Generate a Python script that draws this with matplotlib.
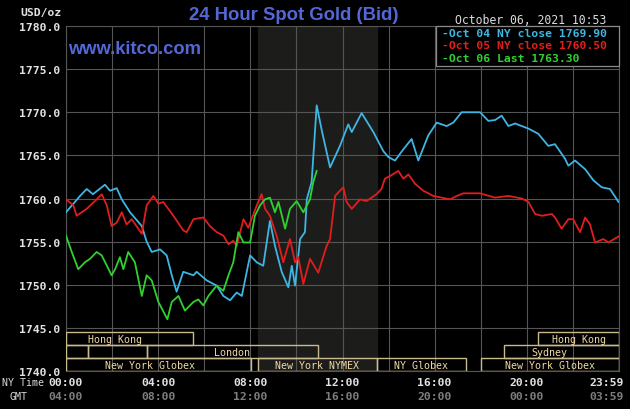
import matplotlib
matplotlib.use("Agg")
import matplotlib.pyplot as plt
from matplotlib.patches import Rectangle
from matplotlib.transforms import blended_transform_factory

# prices, hours are NY time
oct04_hours = [0.0, 0.61, 0.90, 1.17, 1.69, 1.91, 2.20, 2.42, 2.78, 3.29, 3.50, 3.72,
               4.08, 4.37, 4.59, 4.80, 5.09, 5.53, 5.67, 6.11, 6.54, 6.83, 7.12, 7.41,
               7.63, 7.99, 8.28, 8.56, 8.85, 9.07, 9.36, 9.65, 9.80, 9.94, 10.16, 10.37,
               10.45, 10.66, 10.88, 11.10, 11.46, 11.89, 12.25, 12.40, 12.83, 13.34, 13.77,
               13.99, 14.28, 14.64, 15.00, 15.29, 15.72, 16.09, 16.52, 16.81, 17.17, 17.97,
               18.33, 18.62, 18.91, 19.20, 19.49, 20.07, 20.50, 20.93, 21.22, 21.66, 21.80,
               22.09, 22.53, 22.89, 23.25, 23.61, 23.98]
oct04_price = [1758.4, 1760.3, 1761.1, 1760.5, 1761.6, 1760.9, 1761.2, 1759.9, 1758.4, 1756.8,
               1755.0, 1753.8, 1754.1, 1753.4, 1751.1, 1749.2, 1751.5, 1751.1, 1751.5, 1750.5,
               1749.9, 1748.7, 1748.2, 1749.1, 1748.7, 1753.4, 1752.6, 1752.2, 1757.4, 1754.5,
               1751.5, 1749.7, 1752.2, 1749.9, 1755.3, 1756.1, 1759.9, 1761.9, 1770.8, 1767.9,
               1763.6, 1766.1, 1768.6, 1767.7, 1769.9, 1767.7, 1765.5, 1764.8, 1764.4, 1765.7,
               1766.9, 1764.4, 1767.3, 1768.8, 1768.4, 1768.8, 1770.0, 1770.0, 1769.0, 1769.1,
               1769.6, 1768.4, 1768.7, 1768.1, 1767.5, 1766.1, 1766.3, 1764.6, 1763.8, 1764.4,
               1763.4, 1762.1, 1761.3, 1761.1, 1759.6]

oct05_hours = [0.0, 0.32, 0.46, 0.90, 1.33, 1.55, 1.77, 1.98, 2.20, 2.42, 2.63, 2.85, 3.29,
               3.50, 3.79, 4.01, 4.22, 4.66, 5.09, 5.24, 5.53, 5.96, 6.25, 6.54, 6.83, 7.05,
               7.26, 7.41, 7.70, 7.91, 8.28, 8.49, 8.64, 8.85, 9.14, 9.43, 9.72, 9.94, 10.08,
               10.30, 10.59, 10.95, 11.31, 11.46, 11.68, 11.89, 12.04, 12.18, 12.40, 12.76,
               13.04, 13.48, 13.69, 13.84, 14.06, 14.42, 14.64, 14.86, 15.15, 15.51, 15.94,
               16.67, 16.96, 17.25, 17.97, 18.62, 19.20, 19.78, 20.07, 20.36, 20.65, 21.09,
               21.22, 21.51, 21.80, 22.01, 22.31, 22.53, 22.74, 22.96, 23.32, 23.54, 23.98]
oct05_price = [1759.9, 1759.2, 1758.0, 1758.8, 1759.9, 1760.5, 1759.2, 1756.8, 1757.2, 1758.4,
               1757.0, 1757.6, 1755.9, 1759.2, 1760.3, 1759.4, 1759.6, 1758.0, 1756.3, 1756.1,
               1757.6, 1757.8, 1756.8, 1756.1, 1755.7, 1754.7, 1755.1, 1754.5, 1757.6, 1756.6,
               1759.2, 1760.5, 1758.8, 1758.0, 1755.7, 1752.6, 1755.3, 1752.6, 1753.2, 1750.1,
               1753.0, 1751.4, 1754.5, 1755.3, 1760.3, 1760.9, 1761.3, 1759.6, 1758.8, 1759.9,
               1759.7, 1760.5, 1761.1, 1762.3, 1762.6, 1763.2, 1762.3, 1762.8, 1761.7, 1760.9,
               1760.3, 1759.9, 1760.3, 1760.6, 1760.6, 1760.1, 1760.3, 1760.0, 1759.6, 1758.2,
               1758.0, 1758.2, 1757.8, 1756.5, 1757.6, 1757.6, 1756.1, 1757.8, 1757.0, 1754.9,
               1755.3, 1754.9, 1755.6]

oct06_hours = [0.0, 0.25, 0.53, 0.82, 1.04, 1.33, 1.55, 1.98, 2.13, 2.34, 2.49, 2.70, 2.99,
               3.29, 3.50, 3.72, 4.01, 4.40, 4.59, 4.88, 5.16, 5.53, 5.74, 5.96, 6.18, 6.54,
               6.83, 7.05, 7.26, 7.48, 7.70, 7.99, 8.20, 8.42, 8.64, 8.85, 9.07, 9.22, 9.51,
               9.72, 10.01, 10.30, 10.59, 10.73, 10.88]
oct06_price = [1755.7, 1753.8, 1751.8, 1752.6, 1753.0, 1753.8, 1753.4, 1751.1, 1751.8, 1753.2,
               1751.8, 1753.8, 1752.6, 1748.7, 1751.1, 1750.5, 1748.0, 1746.0, 1748.0, 1748.7,
               1747.0, 1748.0, 1748.3, 1747.6, 1748.7, 1749.9, 1749.3, 1751.1, 1752.6, 1756.1,
               1754.9, 1754.9, 1758.0, 1759.2, 1759.9, 1760.1, 1758.4, 1759.6, 1756.5, 1758.8,
               1759.7, 1758.4, 1759.9, 1761.9, 1763.2]

legend_labels = ["Oct 04 NY close 1769.90", "Oct 05 NY close 1760.50", "Oct 06 Last 1763.30"]
ny_ticks = ["00:00", "04:00", "08:00", "12:00", "16:00", "20:00", "23:59"]
gmt_ticks = ["04:00", "08:00", "12:00", "16:00", "20:00", "00:00", "03:59"]
tick_hours = [0, 4, 8, 12, 16, 20, 23.48]

# trading sessions: row (0 = top), start hour, end hour, name
sessions = [
    (0, 0.0, 5.5, "Hong Kong"),
    (0, 20.5, 24.0, "Hong Kong"),
    (1, 0.0, 0.95, ""),
    (1, 0.95, 3.5, ""),
    (1, 3.5, 10.95, "London"),
    (1, 19.0, 24.0, "Sydney"),
    (2, 0.0, 8.05, "New York Globex"),
    (2, 8.33, 13.5, "New York NYMEX"),
    (2, 13.5, 17.35, "NY Globex"),
    (2, 18.0, 24.0, "New York Globex"),
]
label_centre = {0: 2.13, 5: 21.0, 6: 3.65}  # labels not centred in their box

blue = "#3db6e4"
red = "#e01e1e"
green = "#2fd12f"
grid_c = "#555555"
tan = "#c9b98f"
title_c = "#5368d6"
mono = "DejaVu Sans Mono"

fig = plt.figure(figsize=(6.3, 4.1), dpi=100, facecolor="black")
ax = fig.add_axes([66 / 630, 1 - 372 / 410, 553 / 630, 345 / 410])
ax.set_facecolor("black")
ax.set_xlim(0, 24)
ax.set_ylim(1740, 1780)

# NYMEX floor hours shading
ax.axvspan(8.33, 13.5, color="#1c1d1b", zorder=0)

ax.set_xticks(range(0, 25, 2))
ax.set_yticks(range(1740, 1781, 5))
ax.grid(True, color=grid_c, linewidth=0.8, zorder=1)
ax.tick_params(length=0, labelbottom=False, pad=4)
ax.set_yticklabels([f"{v:.1f}" for v in range(1740, 1781, 5)],
                   fontfamily=mono, fontweight="bold", fontsize=8.2, color="#e2e2e2")
for s in ax.spines.values():
    s.set_color(grid_c)
    s.set_linewidth(0.8)

ax.plot(oct04_hours, oct04_price, color=blue, linewidth=1.3, zorder=3)
ax.plot(oct05_hours, oct05_price, color=red, linewidth=1.3, zorder=3)
ax.plot(oct06_hours, oct06_price, color=green, linewidth=1.3, zorder=4)

# session boxes
row_top = 1744.5
row_h = 1.5
for i, (row, start, end, name) in enumerate(sessions):
    y0 = row_top - (row + 1) * row_h
    ax.add_patch(Rectangle((start, y0), end - start, row_h, fill=False,
                           edgecolor=tan, linewidth=1.0, zorder=5))
    if name:
        cx = label_centre.get(i, (start + end) / 2)
        ax.text(cx, y0 + row_h / 2, name, ha="center", va="center", fontfamily=mono,
                fontsize=7.2, color="#f0d9a6", zorder=6)

# legend box
ax.add_patch(Rectangle(((436 - 66) / 553, (372 - 67) / 345), (619 - 436) / 553, 40 / 345,
                       transform=ax.transAxes, facecolor="black", edgecolor="#8a8a8a",
                       linewidth=0.9, zorder=7, clip_on=False))
for lab, col, py in zip(legend_labels, [blue, red, green], [34, 46, 59]):
    ax.text((442 - 66) / 553, (372 - py) / 345, "-" + lab, transform=ax.transAxes,
            ha="left", va="center", fontfamily=mono, fontweight="bold", fontsize=8.2,
            color=col, zorder=8)

ax.text(0.004, (372 - 49) / 345, "www.kitco.com", transform=ax.transAxes, ha="left",
        va="center", fontfamily="Liberation Sans", fontweight="bold", fontsize=13.2,
        color=title_c, zorder=8)

# time labels under the plot
tr = blended_transform_factory(ax.transData, fig.transFigure)
for h, ny, gmt in zip(tick_hours, ny_ticks, gmt_ticks):
    fig.text(h, 1 - 383 / 410, ny, transform=tr, ha="center", va="center", fontfamily=mono,
             fontweight="bold", fontsize=8.2, color="#e2e2e2")
    fig.text(h, 1 - 397 / 410, gmt, transform=tr, ha="center", va="center", fontfamily=mono,
             fontweight="bold", fontsize=8.2, color="#7e7e7e")
fig.text(2 / 630, 1 - 383 / 410, "NY Time", ha="left", va="center", fontfamily=mono,
         fontsize=7.2, color="#d8d8d8")
fig.text(18.5 / 630, 1 - 397 / 410, "GMT", ha="center", va="center", fontfamily=mono,
         fontsize=7.2, color="#d8d8d8")

fig.text(20 / 630, 1 - 13 / 410, "USD/oz", ha="left", va="center", fontfamily=mono,
         fontweight="bold", fontsize=8.2, color="#e2e2e2")
fig.text(294 / 630, 1 - 15 / 410, "24 Hour Spot Gold (Bid)", ha="center", va="center",
         fontfamily="Liberation Sans", fontweight="bold", fontsize=13.3, color=title_c)
fig.text(455 / 630, 1 - 20 / 410, "October 06, 2021 10:53", ha="left", va="center",
         fontfamily=mono, fontsize=8.3, color="#dcdcdc")

fig.savefig("out.png", dpi=100, facecolor="black")
